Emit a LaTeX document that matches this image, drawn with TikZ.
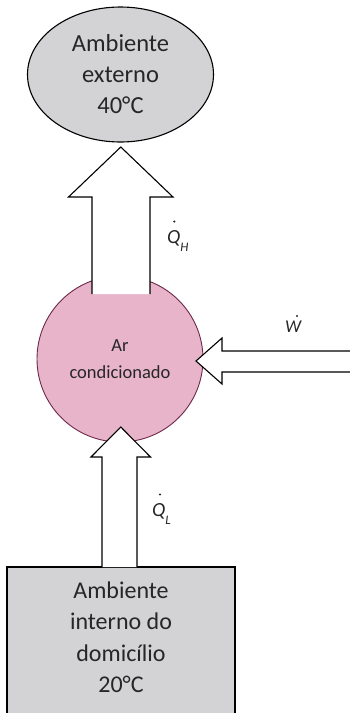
\documentclass[tikz,border=0pt]{standalone}
\usepackage{fontspec}
\setmainfont{Carlito}
\usetikzlibrary{calc,shapes.geometric}
\definecolor{envgray}{RGB}{211,211,213}
\definecolor{acpink}{RGB}{232,180,201}
\definecolor{acborder}{RGB}{110,40,75}
\newcommand{\subQ}[1]{{\itshape Q\raisebox{-8.5pt}{\fontsize{13}{13}\selectfont #1}}}
\tikzset{
  env/.style={draw=black, line width=1.1pt, fill=envgray, text=black!85,
    font=\fontsize{24.5}{31}\selectfont, align=center},
  blockarrow/.style={draw=black, line width=1.1pt, line join=miter},
  lbl/.style={font=\fontsize{20}{20}\selectfont, text=black!85, inner sep=0pt, anchor=base west},
  fluxdot/.style={fill=black!85}
}
\begin{document}
\begin{tikzpicture}[x=1pt,y=-1pt]
\useasboundingbox (0,0) rectangle (349,713);
% outside environment
\node[env, ellipse, minimum width=186pt, minimum height=135pt, inner sep=0pt] (ext) at (120.5,74.5) {Ambiente\\externo\\40°C};
% inside environment
\draw[line width=1.1pt, fill=envgray] (7,720) rectangle (235,567);
\node[font=\fontsize{24}{31.5}\selectfont, align=center, text=black!85] (int) at (121,637) {Ambiente\\interno do\\domicílio\\20°C};
% air conditioner
\node[circle, draw=acborder, line width=0.9pt, fill=acpink, minimum size=166pt, inner sep=0pt,
  font=\fontsize{18.5}{27}\selectfont, align=center, text=black!85] (ac) at (120,359) {Ar\\condicionado};
% top arrow (Q_H)
\coordinate (qhtip) at (120.8,147);
\fill[white] (92,294) -- (92,197) -- (68.5,197) -- (qhtip) -- (173,197) -- (150,197) -- (150,294) -- cycle;
\draw[blockarrow] (92,294) -- (92,197) -- (68.5,197) -- (qhtip) -- (173,197) -- (150,197) -- (150,294);
% right arrow (W)
\coordinate (wtip) at (196,361);
\fill[white] (355,351) -- (222,351) -- (222,338) -- (wtip) -- (222,384) -- (222,372) -- (355,372) -- cycle;
\draw[blockarrow] (355,351) -- (222,351) -- (222,338) -- (wtip) -- (222,384) -- (222,372) -- (355,372);
% bottom arrow (Q_L)
\coordinate (qltip) at (120.8,427);
\fill[white] (102,567) -- (102,457) -- (91,457) -- (qltip) -- (150.5,457) -- (137,457) -- (137,567) -- cycle;
\draw[blockarrow] (102,567) -- (102,457) -- (91,457) -- (qltip) -- (150.5,457) -- (137,457) -- (137,567);
% labels
\node[lbl] (lqh) at (167,243) {\subQ{H}};
\fill[fluxdot] ($(lqh.base west)+(7.3,-21.5)$) circle (1.2pt);
\node[lbl] (lql) at (152,516) {\subQ{L}};
\fill[fluxdot] ($(lql.base west)+(8,-21.5)$) circle (1.2pt);
\node[lbl, font=\fontsize{18}{18}\selectfont\itshape] (lw) at (285,332.7) {W};
\fill[fluxdot] ($(lw.base west)+(12,-16.7)$) circle (1.2pt);
\end{tikzpicture}
\end{document}
